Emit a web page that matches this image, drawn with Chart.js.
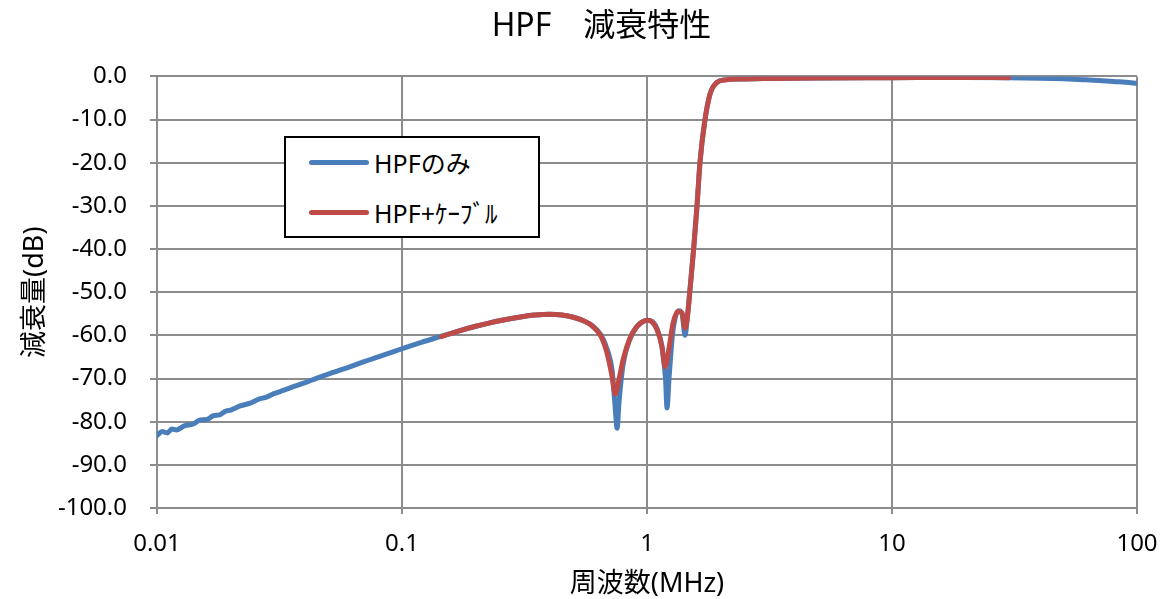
<!DOCTYPE html>
<html>
<head>
<meta charset="utf-8">
<script src="https://cdn.jsdelivr.net/npm/chart.js@4.4.1/dist/chart.umd.min.js"></script>
<style>
  html, body { margin: 0; padding: 0; background: #fff; }
  #wrap { position: relative; width: 1169px; height: 599px; }
  #legend {
    position: absolute; left: 284px; top: 136px; width: 252px; height: 98px;
    border: 2px solid #000; background: #fff;
    font-family: 'Noto Sans', 'Noto Sans CJK JP', sans-serif; font-size: 25px; color: #000;
  }
  .item { position: absolute; left: 0; height: 30px; display: flex; align-items: center; white-space: nowrap; }
  .swatch { width: 60px; height: 5px; border-radius: 3px; margin-left: 23px; margin-right: 5px; }
</style>
</head>
<body>
<div id="wrap">
  <canvas id="c" width="1169" height="599"></canvas>
  <div id="legend"></div>
</div>
<script>
// ---- data ----
const seriesNames = ['HPFのみ', 'HPF+ｹｰﾌﾞﾙ'];
const titleText = 'HPF　減衰特性';
const xTitle = '周波数(MHz)';
const yTitle = '減衰量(dB)';
const xTickValues = [0.01, 0.1, 1, 10, 100];
const xTickLabels = ['0.01', '0.1', '1', '10', '100'];

const hpfFreq = [0.010, 0.0105, 0.011, 0.0115, 0.012, 0.013, 0.014, 0.015, 0.016, 0.017, 0.018, 0.019, 0.020,
  0.022, 0.024, 0.026, 0.028, 0.030, 0.033, 0.036, 0.040, 0.045, 0.050, 0.060, 0.070, 0.080, 0.090, 0.100,
  0.120, 0.145, 0.170, 0.200, 0.250, 0.300, 0.350, 0.400, 0.450, 0.500, 0.550, 0.600, 0.650, 0.690, 0.720,
  0.740, 0.755, 0.770, 0.800, 0.850, 0.900, 0.950, 1.000, 1.050, 1.100, 1.150, 1.190, 1.207, 1.230, 1.270,
  1.310, 1.350, 1.390, 1.430, 1.460, 1.500, 1.550, 1.600, 1.645, 1.720, 1.810, 1.930, 2.100, 2.500, 3.0,
  5.0, 10, 20, 30, 40, 50, 60, 70, 80, 90, 100];
const hpfDb = [-83.2, -82.3, -82.6, -81.7, -81.9, -80.9, -80.6, -79.6, -79.5, -78.6, -78.4, -77.6, -77.3,
  -76.3, -75.7, -74.8, -74.3, -73.5, -72.7, -71.9, -71.0, -69.9, -69.0, -67.5, -66.1, -65.0, -64.0, -63.1,
  -61.6, -60.2, -59.0, -57.9, -56.6, -55.8, -55.3, -55.1, -55.3, -55.8, -56.6, -57.8, -60.0, -63.5, -68.0,
  -76.0, -81.5, -75.0, -66.5, -61.0, -58.3, -57.0, -56.5, -56.8, -58.5, -62.5, -70.0, -76.8, -70.0, -60.0,
  -55.5, -54.3, -55.0, -60.0, -56.0, -49.0, -40.0, -30.0, -20.0, -10.5, -4.0, -1.4, -0.8, -0.6, -0.5,
  -0.35, -0.3, -0.25, -0.3, -0.4, -0.55, -0.75, -0.95, -1.2, -1.35, -1.6];

const cableFreq = [0.145, 0.170, 0.200, 0.250, 0.300, 0.350, 0.400, 0.450, 0.500, 0.550, 0.600, 0.650, 0.690,
  0.720, 0.742, 0.770, 0.800, 0.850, 0.900, 0.950, 1.000, 1.050, 1.100, 1.150, 1.185, 1.230, 1.277, 1.340,
  1.390, 1.430, 1.460, 1.500, 1.550, 1.600, 1.645, 1.720, 1.810, 1.930, 2.100, 2.500, 3.0, 5.0, 10, 20, 30];
const cableDb = [-60.3, -59.0, -57.9, -56.6, -55.8, -55.3, -55.1, -55.3, -55.8, -56.6, -57.9, -60.3, -64.5,
  -69.5, -73.6, -70.0, -65.5, -60.8, -58.3, -57.0, -56.5, -56.9, -58.8, -62.5, -67.3, -63.0, -57.2, -54.4,
  -54.8, -58.3, -56.0, -49.0, -40.0, -30.0, -20.0, -10.5, -4.0, -1.4, -0.8, -0.6, -0.5, -0.35, -0.3, -0.25, -0.3];

const colors = ['#4a7ebb', '#be4b48'];
function pts(xs, ys) { return xs.map((x, i) => ({ x: x, y: ys[i] })); }
const font = "'Noto Sans', 'Noto Sans CJK JP', sans-serif";
const gridColor = '#8c8c8c';

// shift the chart title a little to the right (as in the original)
const titleShift = {
  id: 'titleShift',
  afterLayout(chart) {
    if (chart.titleBlock) { chart.titleBlock.left += 33; chart.titleBlock.right += 33; }
  }
};

const chart = new Chart(document.getElementById('c'), {
  type: 'line',
  plugins: [titleShift],
  data: {
    datasets: [
      { label: seriesNames[0], data: pts(hpfFreq, hpfDb), borderColor: colors[0], backgroundColor: colors[0],
        borderWidth: 5, pointRadius: 0, cubicInterpolationMode: 'monotone', order: 2, borderCapStyle: 'round', borderJoinStyle: 'round' },
      { label: seriesNames[1], data: pts(cableFreq, cableDb), borderColor: colors[1], backgroundColor: colors[1],
        borderWidth: 5, pointRadius: 0, cubicInterpolationMode: 'monotone', order: 1, borderCapStyle: 'round', borderJoinStyle: 'round' }
    ]
  },
  options: {
    responsive: false,
    animation: false,
    devicePixelRatio: 1,
    layout: { padding: { left: 0, right: 32, top: 0, bottom: 0 } },
    plugins: {
      legend: { display: false },
      tooltip: { enabled: false },
      title: {
        display: true, text: titleText, color: '#000',
        font: { family: font, size: 32, weight: 'normal' },
        padding: { top: 8, bottom: 30 }
      }
    },
    scales: {
      x: {
        type: 'logarithmic', min: 0.01, max: 100,
        afterBuildTicks: s => { s.ticks = xTickValues.map(v => ({ value: v })); },
        afterFit: s => { s.height = 91; s.paddingRight = 22; s.paddingLeft = 26; },
        ticks: {
          color: '#000', font: { family: font, size: 24 }, padding: 16, maxRotation: 0, autoSkip: false,
          callback: (v) => { const i = xTickValues.indexOf(v); return i >= 0 ? xTickLabels[i] : ''; }
        },
        grid: { color: gridColor, lineWidth: 2, tickLength: 6 },
        border: { color: gridColor, width: 2 },
        title: { display: true, text: xTitle, color: '#000', font: { family: font, size: 27 }, padding: { top: 0, bottom: -2 } }
      },
      y: {
        min: -100, max: 0,
        afterFit: s => { s.width = 157; },
        ticks: { stepSize: 10, color: '#000', font: { family: font, size: 24 }, padding: 23,
          callback: v => Number(v).toFixed(1) },
        grid: { color: gridColor, lineWidth: 2, tickLength: 7 },
        border: { color: gridColor, width: 2 },
        title: { display: true, text: yTitle, color: '#000', font: { family: font, size: 27 }, padding: { top: 19 } }
      }
    }
  }
});

// HTML legend built from the datasets
const lg = document.getElementById('legend');
chart.data.datasets.forEach((ds, i) => {
  const it = document.createElement('div');
  it.className = 'item';
  it.style.top = (i === 0 ? 9 : 59) + 'px';
  const sw = document.createElement('div');
  sw.className = 'swatch';
  sw.style.background = ds.borderColor;
  const tx = document.createElement('span');
  tx.textContent = ds.label;
  it.appendChild(sw); it.appendChild(tx);
  lg.appendChild(it);
});
</script>
</body>
</html>
